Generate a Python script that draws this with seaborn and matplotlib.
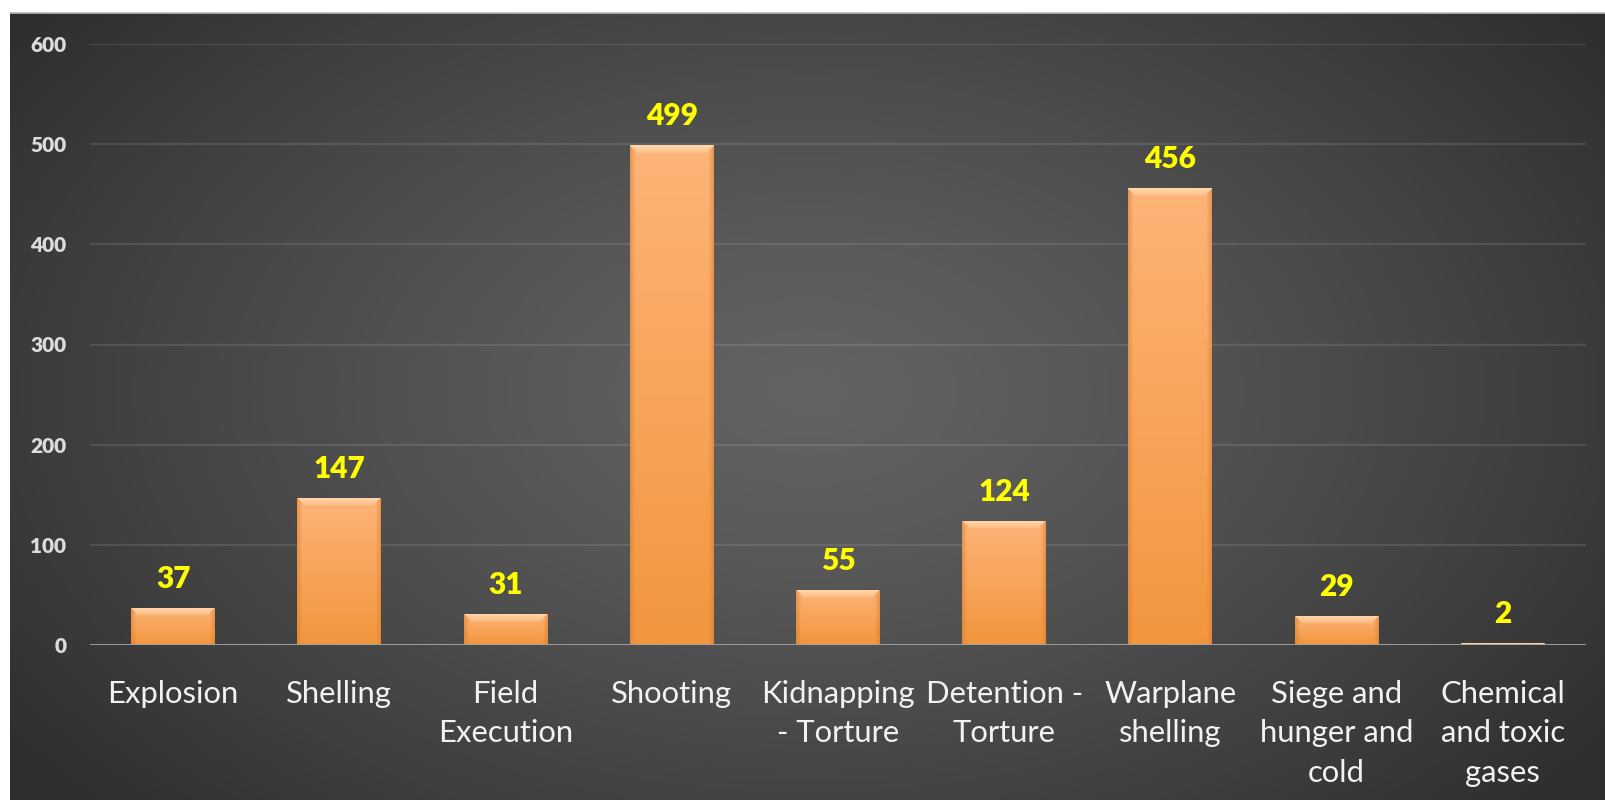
import numpy as np
import pandas as pd
import matplotlib
matplotlib.use("Agg")
import matplotlib.pyplot as plt
import seaborn as sns

categories = ["Explosion", "Shelling", "Field\nExecution", "Shooting",
              "Kidnapping\n- Torture", "Detention -\nTorture", "Warplane\nshelling",
              "Siege and\nhunger and\ncold", "Chemical\nand toxic\ngases"]
values = [37, 147, 31, 499, 55, 124, 456, 29, 2]
yticks = [0, 100, 200, 300, 400, 500, 600]

sns.set_theme(style="dark")
plt.rcParams['font.family'] = ['Lato', 'DejaVu Sans']

W, H = 1605, 800
fig = plt.figure(figsize=(W / 100, H / 100), dpi=100, facecolor="white")

# background panel with radial gradient
px0, ptop = 10, 13
bg = fig.add_axes([px0 / W, 0, 1 - px0 / W, (H - ptop) / H])
gh, gw = 300, 600
yy, xx = np.mgrid[0:gh, 0:gw]
cx, cy = 0.50 * gw, 0.48 * gh
d = np.sqrt(((xx - cx) / (0.62 * gw)) ** 2 + ((yy - cy) / (0.78 * gh)) ** 2)
d = np.clip(d, 0, 1)
lev = (0x63 - (0x63 - 0x2e) * d ** 1.25) / 255.0
img = np.dstack([lev, lev, lev])
bg.imshow(img, aspect="auto", extent=[0, 1, 0, 1], interpolation="bilinear")
bg.set_xlim(0, 1)
bg.set_ylim(0, 1)
bg.axis("off")
fig.add_artist(plt.Line2D([px0 / W, 1], [(H - ptop) / H] * 2, color="#b8b8b8", lw=1.2,
                          transform=fig.transFigure))

# main axes
ax_l, ax_r = 90, 1586
y0px, y600px = 645, 44
ax = fig.add_axes([ax_l / W, (H - y0px) / H, (ax_r - ax_l) / W, (y0px - y600px) / H])
ax.set_facecolor("none")

df = pd.DataFrame({"cat": categories, "val": values})
sns.barplot(data=df, x="cat", y="val", ax=ax, color="#F7A45C", saturation=1,
            width=0.505, edgecolor="none", zorder=3)

ax.set_xlim(-0.5, len(categories) - 0.5)
ax.set_ylim(0, 600)

# gradient/bevel fill of each bar
top_c = np.array([0xFD, 0xB4, 0x78]) / 255
bot_c = np.array([0xF2, 0x96, 0x3E]) / 255
hi_c = np.array([0xFF, 0xDD, 0xB5]) / 255
edge_c = np.array([0xD8, 0x7E, 0x30]) / 255
for p in ax.patches:
    x0, w, h = p.get_x(), p.get_width(), p.get_height()
    if h <= 0:
        continue
    npx_h = max(int(round(h * (y0px - y600px) / 600)), 2)
    npx_w = 83
    r, c = np.mgrid[0:npx_h, 0:npx_w]
    t = r / max(npx_h - 1, 1)
    base = top_c[None, None, :] * (1 - t[..., None]) + bot_c[None, None, :] * t[..., None]
    bev = 8
    dtop = r
    dside = np.minimum(c, npx_w - 1 - c)
    topmask = (dtop < bev) & (dtop <= dside)
    sidemask = (dside < 5) & ~topmask
    a = (1 - dtop / bev)[..., None] * 0.6 + 0.25
    base = np.where(topmask[..., None], base * (1 - a) + hi_c * a, base)
    sa = (1 - dside / 5)[..., None] * 0.55
    base = np.where(sidemask[..., None], base * (1 - sa) + edge_c * sa, base)
    im = ax.imshow(base, extent=[x0, x0 + w, 0, h], aspect="auto", zorder=4,
                   interpolation="bilinear")
    im.set_clip_path(p)

ax.set_xlim(-0.5, len(categories) - 0.5)
ax.set_ylim(0, 600)
ax.set_aspect("auto")

for i, v in enumerate(values):
    ax.text(i, v + 20, str(v), ha="center", va="baseline", color="#FFFF00",
            fontsize=21.5, fontweight="heavy", zorder=6)

ax.set_yticks(yticks)
ax.set_yticklabels([str(t) for t in yticks])
ax.yaxis.grid(True, color="white", alpha=0.1, lw=1.6, zorder=0)
ax.xaxis.grid(False)
ax.axhline(0, color="#a3a3a3", lw=2, zorder=5)
for s in ax.spines.values():
    s.set_visible(False)
ax.tick_params(axis="y", length=0, pad=17, labelsize=15, labelcolor="#dcdcdc")
for lab in ax.get_yticklabels():
    lab.set_fontweight("heavy")
ax.tick_params(axis="x", length=0, pad=25, labelsize=22.3, labelcolor="#f2f2f2")
for lab in ax.get_xticklabels():
    lab.set_linespacing(1.5)
ax.set_xlabel("")
ax.set_ylabel("")

fig.savefig("out.png", dpi=100, facecolor="white")
